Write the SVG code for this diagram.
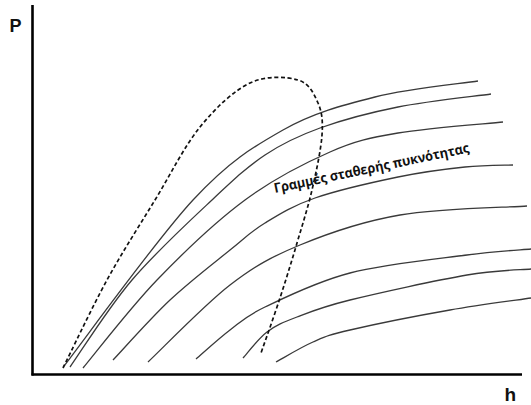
<svg xmlns="http://www.w3.org/2000/svg" width="531" height="405" viewBox="0 0 531 405">
<style>
.ax{stroke:#000;stroke-width:2.6;fill:none}
.c{stroke:#3a3a3a;stroke-width:1.3;fill:none}
.d{stroke:#111;stroke-width:1.7;fill:none;stroke-dasharray:4 2.6}
.lb{font-family:"Liberation Sans",Arial,sans-serif;font-weight:bold;fill:#111}
.t{font-family:"Open Sans","Liberation Sans",sans-serif;font-weight:bold;font-size:13.5px;fill:#111}
</style>
<rect width="531" height="405" fill="#fff"/>
<g id="axes">
<line class="ax" x1="32.5" y1="5" x2="32.5" y2="375.5"/>
<line class="ax" x1="31.5" y1="374.5" x2="522" y2="374.5"/>
<text class="lb" x="9.5" y="32" font-size="18">P</text>
<text class="lb" x="504.5" y="401" font-size="19">h</text>
</g>
<g id="density-lines">
<path class="c" d="M64,366 C85.5,338.3 156.5,239.3 193,200 S252.7,147.2 283,130 S342.5,105.2 375,97 S460.8,83.7 478,81"/>
<path class="c" d="M70,367 C80.3,352.5 108.3,307.8 132,280 S189.8,220.8 212,200 S247,167 265,155 S297.8,136 320,128 S369.5,112.7 398,107 S475.5,96.2 491,94"/>
<path class="c" d="M83,368 C95.3,353.3 130,308 157,280 S216.2,221.3 245,200 S304.5,163.2 330,152 S369.2,138 398,133 S485.5,123.8 503,122"/>
<path class="c" d="M113,360 C122.5,350 150.5,318.3 170,300 S214.2,262.8 230,250 S250.8,231.7 265,223 S292.8,205.7 315,198 S373,182.2 398,177 S445.8,169 465,167 S505,165.3 513,165"/>
<path class="c" d="M148,362 C161.7,349.2 204.7,304.5 230,285 S271.7,256.7 300,245 S362.2,221.5 400,215 S505.8,207.5 527,206"/>
<path class="c" d="M196,359 C201.7,354.2 218.5,338.7 230,330 S245,316.5 265,307 S316.3,281.7 350,273 S436.8,259 467,255 S520.3,250 531,249"/>
<path class="c" d="M243,358 C247,353.7 258,338.8 267,332 S283.2,322.3 297,317 S321.7,307 350,300 S436.8,280.2 467,275 S520.3,270 531,269"/>
<path class="c" d="M276,362 C282.2,358.7 300.7,347.3 313,342 S327.2,335.3 350,330 S419.8,315.3 450,310 S517.5,300 531,298"/>
</g>
<g id="label">
<text class="t" transform="translate(275,193) rotate(-11.8)" x="0" y="0" textLength="199" lengthAdjust="spacingAndGlyphs">Γραμμές σταθερής πυκνότητας</text>
</g>
<g id="dome">
<path class="d" d="M63,368 C70.3,353.3 91.7,308 107,280 S139.5,225.5 155,200 S184.2,146.5 200,127 S233.7,90.8 250,83 S286.7,76.7 298,80 S314,93.8 318,103 S323,120.5 322,135 S316.2,172 312,190 S302.3,225 297,243 S286,279.7 280,298 S264.2,343.8 261,353"/>
</g>
</svg>
